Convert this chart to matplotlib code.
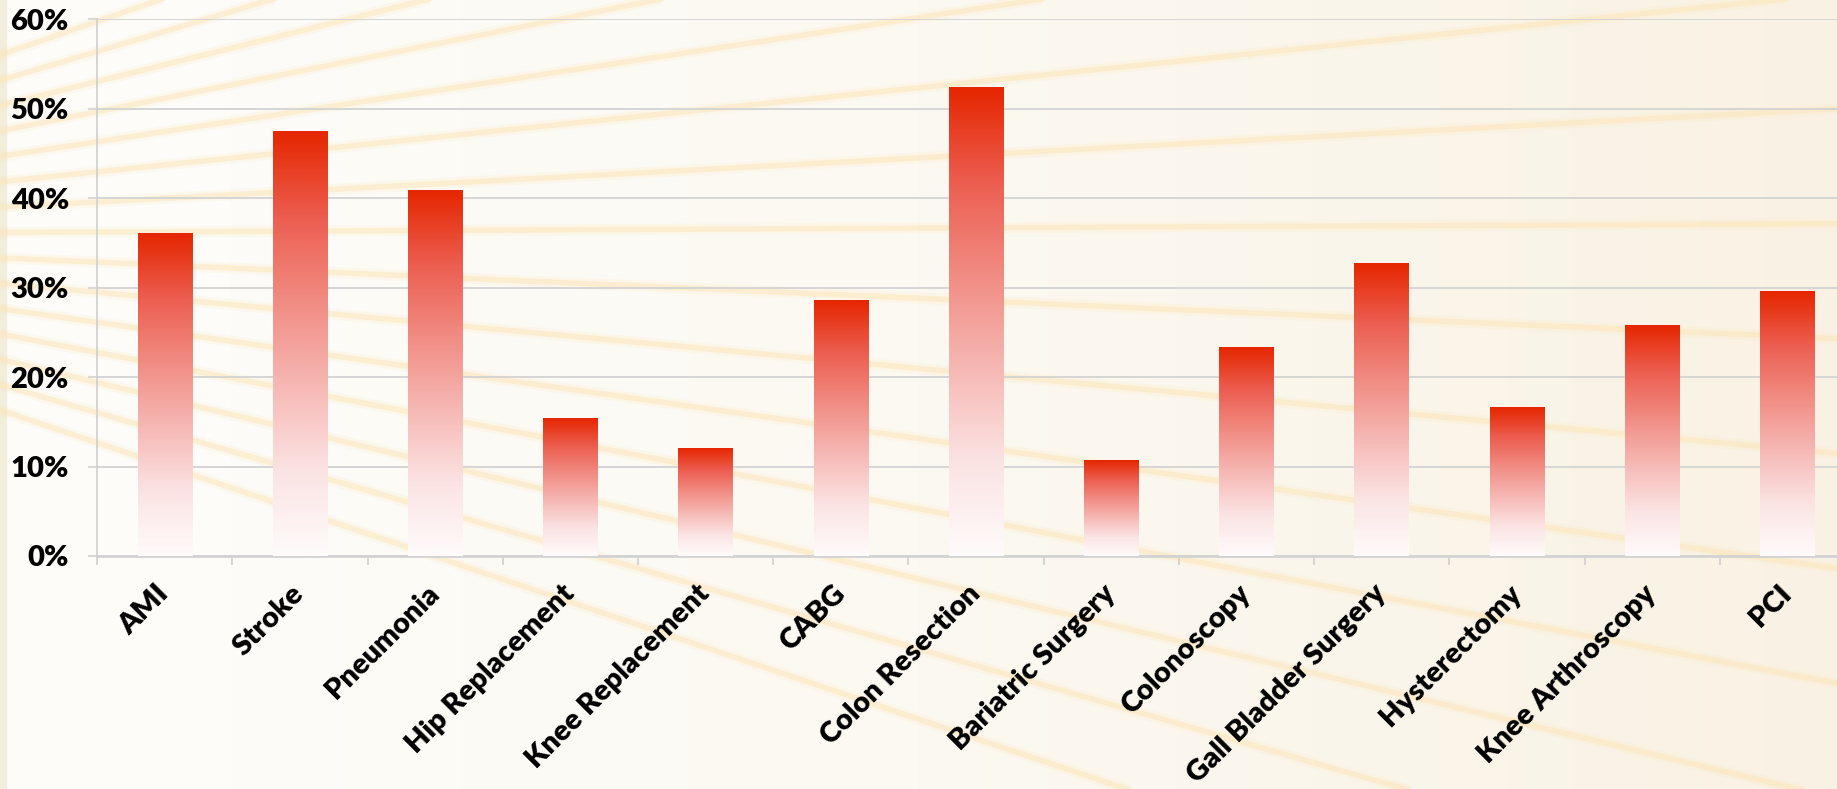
import numpy as np
import matplotlib.pyplot as plt
from matplotlib.colors import LinearSegmentedColormap
from matplotlib.ticker import FuncFormatter

# share of patients (%) per procedure / condition
procedures = ["AMI", "Stroke", "Pneumonia", "Hip Replacement", "Knee Replacement",
              "CABG", "Colon Resection", "Bariatric Surgery", "Colonoscopy",
              "Gall Bladder Surgery", "Hysterectomy", "Knee Arthroscopy", "PCI"]
rates = [36.1, 47.4, 40.9, 15.4, 12.0, 28.6, 52.4, 10.7, 23.3, 32.7, 16.6, 25.8, 29.6]
y_ticks = [0, 10, 20, 30, 40, 50, 60]

plt.rcParams['font.family'] = ['Lato', 'DejaVu Sans']

W, H = 1837, 789
fig = plt.figure(figsize=(W / 100, H / 100), dpi=100)

# background: cream gradient with faint yellow rays
bg = fig.add_axes([0, 0, 1, 1], zorder=0)
bg.axis('off')
bg_cmap = LinearSegmentedColormap.from_list('bg', ['#FEFDFA', '#FCF9F2', '#F9F2E4'])
bg.imshow(np.linspace(0, 1, 256).reshape(1, -1), cmap=bg_cmap,
          extent=(0, W, H, 0), aspect='auto')
bg.axvspan(0, 6, color='#F3EDDB')
xs = np.array([0, W])
for y0 in np.linspace(55, 410, 15):
    slope = (y0 - 235) / 520
    ys = y0 + slope * xs
    bg.plot(xs, ys, color='#FCE3B0', lw=8, alpha=0.15, solid_capstyle='butt')
    bg.plot(xs, ys, color='#FDE7BC', lw=4, alpha=0.55)
bg.set_xlim(0, W)
bg.set_ylim(H, 0)

# main chart
ax = fig.add_axes([97.3 / W, (H - 556) / H, 13 * 135.2 / W, (556 - 19.2) / H], zorder=1)
ax.patch.set_alpha(0)
x = np.arange(len(procedures))
bars = ax.bar(x, rates, width=0.405, color='none', zorder=3)

bar_cmap = LinearSegmentedColormap.from_list(
    'bar', ['#FFFBFB', '#FBE3E3', '#F6B8B4', '#F18C83', '#EC5D4F', '#E52600'])
vgrad = np.linspace(0, 1, 256).reshape(-1, 1)
for b in bars:
    ax.imshow(vgrad, cmap=bar_cmap, origin='lower', aspect='auto', zorder=3,
              extent=(b.get_x(), b.get_x() + b.get_width(), 0, b.get_height()))

ax.set_xlim(-0.5, len(procedures) - 0.5)
ax.set_ylim(0, 60)
ax.set_yticks(y_ticks)
ax.yaxis.set_major_formatter(FuncFormatter(lambda v, p: f"{v:.0f}%"))
ax.yaxis.grid(True, color='#D3D3D3', lw=1.3)
ax.set_axisbelow(True)

ax.set_xticks(x)
ax.set_xticklabels(procedures, rotation=45, ha='right', va='center',
                   rotation_mode='anchor', fontsize=21, fontweight='heavy')
ax.set_xticks(np.arange(-0.5, len(procedures), 1), minor=True)
ax.tick_params(axis='x', which='major', length=0, pad=24)
ax.tick_params(axis='x', which='minor', length=6.8, width=1.2, color='#CFCFCF')
ax.tick_params(axis='y', length=6.5, width=1.2, color='#D3D3D3', pad=14,
               labelsize=21)
for lab in ax.get_yticklabels():
    lab.set_fontweight('heavy')

for s in ['top', 'right']:
    ax.spines[s].set_visible(False)
ax.spines['left'].set_color('#CFCFCF')
ax.spines['left'].set_linewidth(1.2)
ax.spines['bottom'].set_color('#D3D3D3')
ax.spines['bottom'].set_linewidth(2)

fig.savefig('out.png', dpi=100)
